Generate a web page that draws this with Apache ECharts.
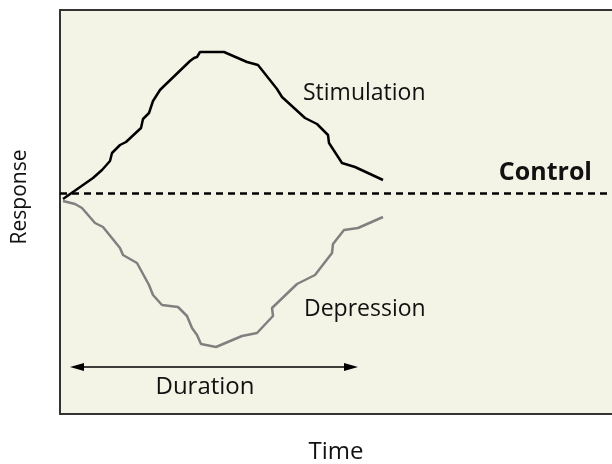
<!DOCTYPE html>
<html>
<head>
<meta charset="utf-8">
<script src="https://cdn.jsdelivr.net/npm/echarts@6/dist/echarts.min.js"></script>
<style>html,body{margin:0;padding:0;background:#fff;overflow:hidden;width:612px;height:464px;}#c{width:620px;height:464px;}</style>
</head>
<body>
<div id="c"></div>
<script>
// Response relative to control level (0), time from start of recording
const stimulation = [[3,-6],[33,15],[42,23],[50,32],[52,40],[60,48],[66,51],[81,65],[83,74],[89,80],[93,92],[100,103],[103,106],[130,132],[134,135],[137,136],[140,141],[164,141],[187,131],[198,128],[217,104],[222,96],[245,75],[257,69],[268,58],[269,50],[282,30],[295,26],[323,13]];
const depression = [[3,-8],[15,-11],[22,-15],[35,-30],[43,-34],[60,-55],[63,-62],[77,-70],[89,-92],[93,-102],[102,-112],[118,-114],[127,-123],[132,-135],[137,-142],[141,-151],[156,-154],[182,-143],[197,-140],[213,-123],[212,-115],[237,-91],[255,-82],[272,-60],[273,-51],[284,-37],[298,-35],[323,-24]];
const controlLevel = 0;
const durationStart = [17,-174];
const durationEnd = [291,-174];
const labels = {
  stimulation: {text:'Stimulation', at:[243,100]},
  depression: {text:'Depression', at:[244,-116]},
  control: {text:'Control', at:[532,20]},
  duration: {text:'Duration', at:[145,-194]}
};
const xRange = [0,554];
const yRange = [-221,183];
const xTitle = 'Time';
const yTitle = 'Response';

const FONT = '"Open Sans", sans-serif';
const chart = echarts.init(document.getElementById('c'), null, {renderer:'canvas'});
function lab(l, align, size, bold){
  return {coord:l.at, value:l.text, symbol:'circle', symbolSize:1,
    itemStyle:{color:'rgba(0,0,0,0)'},
    label:{show:true, position:'inside', formatter:l.text, align:align, verticalAlign:'middle',
      color:'#111', fontFamily:FONT, fontSize:size, fontWeight:bold?'bold':'normal'}};
}
const frameLine = {show:true, onZero:false, lineStyle:{color:'#333', width:2}};
chart.setOption({
  animation:false,
  grid:{left:60, right:6, top:10, bottom:50, show:true, backgroundColor:'#f4f4e6', borderWidth:0, borderColor:'rgba(0,0,0,0)'},
  xAxis:[
    {type:'value', min:xRange[0], max:xRange[1], position:'bottom', axisLine:frameLine, axisTick:{show:false}, axisLabel:{show:false}, splitLine:{show:false}},
    {type:'value', min:xRange[0], max:xRange[1], position:'top', axisLine:frameLine, axisTick:{show:false}, axisLabel:{show:false}, splitLine:{show:false}}
  ],
  yAxis:{type:'value', min:yRange[0], max:yRange[1], position:'left', axisLine:frameLine, axisTick:{show:false}, axisLabel:{show:false}, splitLine:{show:false}},
  graphic:[
    {type:'text', style:{text:xTitle, font:'24px '+FONT, fill:'#111', textAlign:'center', textVerticalAlign:'middle'}, position:[336,452], silent:true},
    {type:'text', style:{text:yTitle, font:'21px '+FONT, fill:'#111', textAlign:'center', textVerticalAlign:'middle'}, position:[20,197], rotation:Math.PI/2, silent:true}
  ],
  series:[
    {type:'line', data:stimulation, symbol:'none', silent:true,
     lineStyle:{color:'#000', width:2.5},
     markLine:{silent:true, symbol:'none', label:{show:false},
       lineStyle:{color:'#000', width:2.5, type:[7,5]},
       data:[{yAxis:controlLevel}]},
     markPoint:{silent:true, data:[lab(labels.stimulation,'left',23), lab(labels.control,'right',25,true)]}
    },
    {type:'line', data:depression, symbol:'none', silent:true,
     lineStyle:{color:'#808080', width:2.5},
     markLine:{silent:true, symbol:['path://M4,0L8,14L0,14Z','path://M4,0L8,14L0,14Z'], symbolSize:14, symbolKeepAspect:true, label:{show:false},
       lineStyle:{color:'#000', width:1.5, type:'solid'},
       data:[[{coord:durationStart},{coord:durationEnd}]]},
     markPoint:{silent:true, data:[lab(labels.depression,'left',23), lab(labels.duration,'center',24)]}
    }
  ]
});
</script>
</body>
</html>
